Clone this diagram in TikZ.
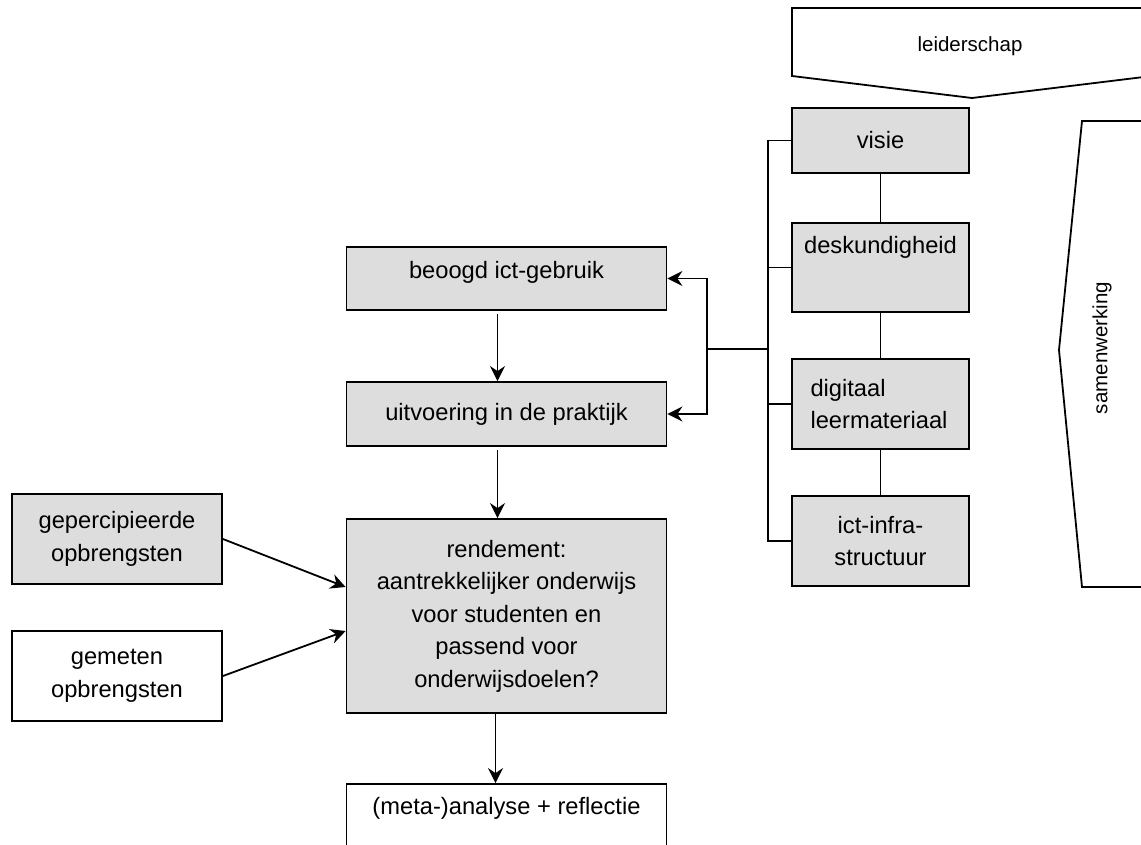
\documentclass[tikz,border=0pt]{standalone}
\usepackage{fontspec}
\setmainfont{Liberation Sans}
\usetikzlibrary{arrows.meta}
\definecolor{grijsvak}{RGB}{221,221,221}
\tikzset{
  blok/.style={draw, fill=grijsvak, line width=1.8pt, align=center, inner sep=0pt,
    font=\fontsize{23.7}{32.5}\selectfont},
  blokwit/.style={blok, fill=white},
  pijl/.style={line width=1.8pt, -{Stealth[length=15pt,width=15pt,inset=5pt]}},
  lijn/.style={line width=1.8pt},
  kader/.style={draw, fill=white, line width=1.8pt}
}

\begin{document}
\begin{tikzpicture}[x=1pt,y=-1pt]
  \useasboundingbox (0,0) rectangle (1141,845);
  \clip (0,0) rectangle (1141,845);
  % kaders rechts
  \draw[kader] (792,8) -- (1152,8) -- (1152,76) -- (972,98) -- (792,76) -- cycle;
  \node (leider) at (970,46) {\fontsize{20.5}{24}\selectfont leiderschap};
  \draw[kader] (1082,121) -- (1170,121) -- (1170,587) -- (1082,587) -- (1059,350) -- cycle;
  \node[rotate=90] (samen) at (1102,348) {\fontsize{20.5}{24}\selectfont samenwerking};
  % voorwaarden
  \node[blok, minimum width=177pt, minimum height=65pt] (visie) at (880.5,140.5) {visie};
  \node[blok, minimum width=177pt, minimum height=89pt, text height=17pt, text depth=44pt] (desk) at (880.5,267.5) {deskundigheid};
  \node[blok, minimum width=177pt, minimum height=90pt, align=left, text width=140pt] (digi) at (880.5,404) {digitaal\\leermateriaal};
  \node[blok, minimum width=177pt, minimum height=90pt] (ict) at (880.5,541) {ict-infra-\\structuur};
  % middenkolom
  \node[blok, minimum width=320pt, minimum height=63pt, text height=17pt, text depth=16pt] (beoogd) at (506.5,278.5) {beoogd ict-gebruik};
  \node[blok, minimum width=320pt, minimum height=64pt] (uitv) at (506.5,414) {uitvoering in de praktijk};
  \node[blok, minimum width=320pt, minimum height=194pt] (rend) at (506.5,616) {rendement:\\aantrekkelijker onderwijs\\voor studenten en\\passend voor\\onderwijsdoelen?};
  \node[blokwit, minimum width=320pt, minimum height=64pt, text height=17pt, text depth=21pt] (analyse) at (506.5,816) {(meta-)analyse + reflectie};
  % opbrengsten
  \node[blok, minimum width=210pt, minimum height=90pt] (gep) at (117,539) {gepercipieerde\\opbrengsten};
  \node[blokwit, minimum width=210pt, minimum height=90pt] (gem) at (117,676) {gemeten\\opbrengsten};
  % verbindingen
  \draw[lijn] (visie) -- (desk);
  \draw[lijn] (desk) -- (digi);
  \draw[lijn] (digi) -- (ict);
  \draw[lijn] (visie.west) -- ++(-23,0) |- (ict.west);
  \draw[lijn] (desk.west) -- ++(-23,0);
  \draw[lijn] (digi.west) -- ++(-23,0);
  \coordinate (bus) at (769,349);
  \coordinate (split) at (707,349);
  \draw[lijn] (bus) -- (split);
  \draw[pijl] (split) |- (beoogd.east);
  \draw[pijl] (split) |- (uitv.east);
  \draw[pijl, shorten <=3pt] ([xshift=-9pt]beoogd.south) -- ([xshift=-9pt]uitv.north);
  \draw[pijl, shorten <=3pt] ([xshift=-9pt]uitv.south) -- ([xshift=-9pt]rend.north);
  \draw[pijl] ([xshift=-11pt]rend.south) -- ([xshift=-11pt]analyse.north);
  \draw[pijl] (gep.east) -- ([yshift=29pt]rend.west);
  \draw[pijl] (gem.east) -- ([yshift=-15pt]rend.west);
\end{tikzpicture}
\end{document}
